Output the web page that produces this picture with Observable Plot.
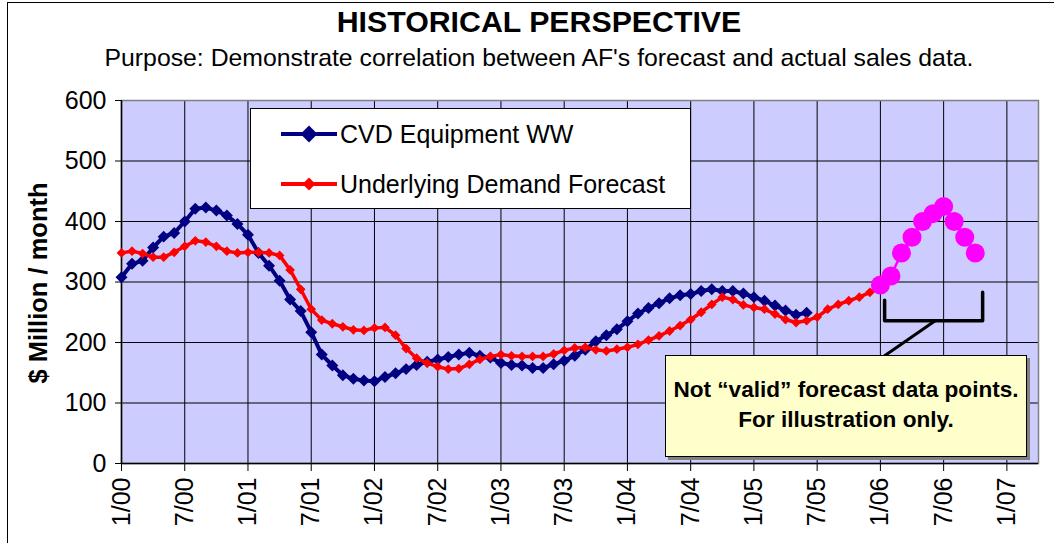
<!DOCTYPE html>
<html><head><meta charset="utf-8">
<script src="https://cdn.jsdelivr.net/npm/d3@7"></script>
<script src="https://cdn.jsdelivr.net/npm/@observablehq/plot@0.6"></script>
<style>
body{margin:0;background:#fff;font-family:Arial,"Liberation Sans",sans-serif;}
#wrap{position:relative;width:1054px;height:543px;overflow:hidden;background:#fff;}
#frameline{position:absolute;left:7px;top:2px;width:1200px;height:700px;border-left:1.5px solid #000;border-top:1.5px solid #000;pointer-events:none;}
#head{position:relative;height:80px;}
#title{position:absolute;left:0;width:1078px;top:4px;text-align:center;font-weight:bold;font-size:30.3px;line-height:36px;color:#000;}
#subtitle{position:absolute;left:0;width:1078px;top:43px;text-align:center;font-size:24.8px;line-height:30px;color:#000;}
#ylabel{position:absolute;left:38px;top:283px;transform:translate(-50%,-50%) rotate(-90deg);white-space:nowrap;font-weight:bold;font-size:25.5px;}
#legend{position:absolute;left:250px;top:108px;width:439px;height:99px;background:#fff;border:1px solid #000;}
.lg{position:absolute;left:0;height:30px;font-size:25px;line-height:30px;}
.lg svg{position:absolute;left:28px;top:0;}
.lg span{position:absolute;left:89px;top:0;white-space:nowrap;}
#note{position:absolute;left:665px;top:355px;width:360px;height:100px;background:#FFFFCC;border:1.5px solid #000;box-shadow:3px 3px 0 #808080;font-weight:bold;font-size:22.6px;text-align:center;}
#note div{position:absolute;left:0;width:100%;}
#plotbox{position:absolute;left:0;top:80px;}
</style></head>
<body>
<div id="wrap">
  <div id="head">
    <div id="title">HISTORICAL PERSPECTIVE</div>
    <div id="subtitle">Purpose: Demonstrate correlation between AF's forecast and actual sales data.</div>
  </div>
  <div id="plotbox"></div>
  <div id="ylabel">$ Million / month</div>
  <div id="legend">
    <div class="lg" style="top:10px"><svg width="60" height="30"><line x1="2" y1="15" x2="58" y2="15" stroke="#000080" stroke-width="4"/><path d="M30,6.5 L38.5,15 L30,23.5 L21.5,15 Z" fill="#000080"/></svg><span>CVD Equipment WW</span></div>
    <div class="lg" style="top:60px"><svg width="60" height="30"><line x1="2" y1="15" x2="58" y2="15" stroke="#FF0000" stroke-width="4"/><path d="M30,8.5 L36.5,15 L30,21.5 L23.5,15 Z" fill="#FF0000"/></svg><span>Underlying Demand Forecast</span></div>
  </div>
  <div id="note">
    <div style="top:21px">Not “valid” forecast data points.</div>
    <div style="top:51px">For illustration only.</div>
  </div>
  <div id="frameline"></div>
</div>
<script>
// Month index 0 = Jan 2000
const tickLabels = ["1/00","7/00","1/01","7/01","1/02","7/02","1/03","7/03","1/04","7/04","1/05","7/05","1/06","7/06","1/07"];
const yTicks = [0,100,200,300,400,500,600];

// CVD Equipment WW, monthly from 1/00
const cvdWW = [308,330,335,357,375,381,400,421,423,418,410,396,
  378,348,327,302,271,252,217,180,162,146,140,137,
  136,143,149,156,163,168,172,176,180,183,178,175,
  166,163,162,158,158,164,170,178,188,202,212,222,
  235,248,257,265,273,278,280,285,288,285,285,281,
  275,269,261,253,246,249];

// Underlying Demand Forecast, monthly from 1/00
const demandForecast = [348,351,347,341,341,349,359,368,366,359,351,348,
  349,349,348,344,320,288,255,237,231,226,221,220,
  224,225,212,190,174,166,160,156,157,164,172,177,
  180,178,177,177,177,181,187,191,192,188,186,189,
  192,197,204,211,219,228,238,250,263,275,271,262,
  258,255,247,238,233,236,242,255,263,269,275,283,292];

// Illustration-only points, monthly from 1/06 (month 72)
const illusStart = 72;
const illustration = [295,310,348,374,400,413,425,400,374,348];

// Bracket annotation (data units)
const bracketMonths = [72.4,72.4,81.7,81.7];
const bracketValues = [270,236,236,283];
const pointerMonths = [77.2,72.4];
const pointerValues = [236,178];

const cvdData = cvdWW.map((v,i)=>({m:i,v}));
const fcData = demandForecast.map((v,i)=>({m:i,v}));
const ilData = illustration.map((v,i)=>({m:illusStart+i,v}));
const bracket = bracketMonths.map((m,i)=>({m,v:bracketValues[i]}));
const pointer = pointerMonths.map((m,i)=>({m,v:pointerValues[i]}));
const xTicks = tickLabels.map((_,i)=>i*6);

const plot = Plot.plot({
  width:1054, height:463,
  marginLeft:121, marginRight:16, marginTop:20, marginBottom:80,
  style:{fontFamily:"Arial, 'Liberation Sans', sans-serif", fontSize:"25px", color:"#000", background:"transparent", overflow:"visible"},
  x:{type:"linear", domain:[0,87]},
  y:{domain:[0,600]},
  marks:[
    Plot.frame({fill:"#CCCCFF"}),
    Plot.ruleY(yTicks.slice(1), {stroke:"#000", strokeWidth:1}),
    Plot.ruleX(xTicks.slice(1), {stroke:"#000", strokeWidth:1}),
    Plot.frame({stroke:"#808080", strokeWidth:1.5}),
    Plot.ruleY([0], {stroke:"#000", strokeWidth:1.5}),
    Plot.ruleX([0], {stroke:"#000", strokeWidth:1.5}),
    Plot.axisY({ticks:yTicks, tickSize:6, tickPadding:9, label:null, fontSize:25}),
    Plot.axisX({ticks:xTicks, tickSize:8, tickPadding:6, tickRotate:-90, label:null, fontSize:25,
      tickFormat:d=>tickLabels[Math.round(d/6)]}),
    Plot.line(cvdData, {x:"m", y:"v", stroke:"#000080", strokeWidth:4}),
    Plot.dot(cvdData, {x:"m", y:"v", symbol:"diamond2", r:5.4, fill:"#000080"}),
    Plot.line(fcData, {x:"m", y:"v", stroke:"#FF0000", strokeWidth:3.5}),
    Plot.dot(fcData, {x:"m", y:"v", symbol:"diamond2", r:4.4, fill:"#FF0000"}),
    Plot.line(ilData, {x:"m", y:"v", stroke:"#FF00FF", strokeWidth:2.5}),
    Plot.dot(ilData, {x:"m", y:"v", r:9.5, fill:"#FF00FF"}),
    Plot.line(bracket, {x:"m", y:"v", stroke:"#000", strokeWidth:3.5}),
    Plot.line(pointer, {x:"m", y:"v", stroke:"#000", strokeWidth:3})
  ]
});
document.getElementById("plotbox").appendChild(plot);
</script>
</body></html>
